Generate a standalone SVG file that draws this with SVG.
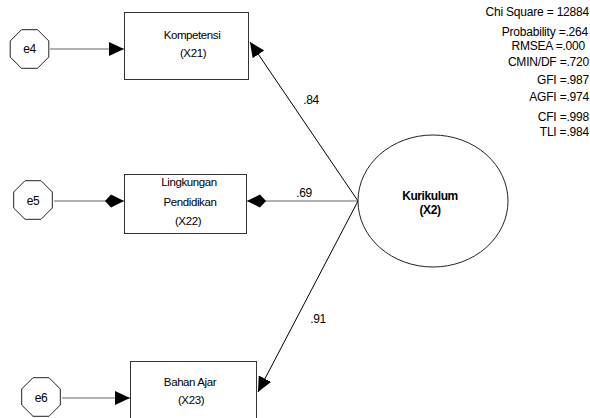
<svg xmlns="http://www.w3.org/2000/svg" xmlns:xlink="http://www.w3.org/1999/xlink" width="590" height="418" viewBox="0 0 590 418">
<defs>
<style>
.t{font-family:"Liberation Sans",Arial,sans-serif;font-size:11.5px;fill:#000;text-anchor:middle;letter-spacing:-0.4px}
.s{font-family:"Liberation Sans",Arial,sans-serif;font-size:12px;fill:#000;text-anchor:end;letter-spacing:-0.2px}
.b{font-family:"Liberation Sans",Arial,sans-serif;font-size:12px;font-weight:bold;fill:#000;text-anchor:middle;letter-spacing:-0.4px}
.box{fill:#fff;stroke:#333;stroke-width:1}
.shape{fill:#fff;stroke:#222;stroke-width:1}
.h{stroke:#666;stroke-width:1.2;fill:none}
.o{stroke:#000;stroke-width:1;fill:none}
</style>
<polygon id="oct" points="8,-19.3 19.3,-8 19.3,8 8,19.3 -8,19.3 -19.3,8 -19.3,-8 -8,-19.3"/>
<marker id="tri" markerUnits="userSpaceOnUse" markerWidth="16" markerHeight="14" refX="15" refY="7" orient="auto">
<path d="M0,0 L15,7 L0,14 Z" fill="#000"/>
</marker>
<marker id="kite" markerUnits="userSpaceOnUse" markerWidth="20" markerHeight="15" refX="19" refY="7.5" orient="auto">
<path d="M0,7.5 L6,1 L19,7.5 L6,14 Z" fill="#000"/>
</marker>
</defs>
<rect width="590" height="418" fill="#fff"/>
<g id="connectors">
<line class="h" x1="50" y1="49" x2="124" y2="49" marker-end="url(#tri)"/>
<line class="h" x1="54" y1="201" x2="124" y2="201" marker-end="url(#kite)"/>
<line class="h" x1="62" y1="398" x2="130" y2="398" marker-end="url(#tri)"/>
<line class="o" x1="358" y1="201" x2="250" y2="42" marker-end="url(#tri)"/>
<line class="h" x1="358" y1="201" x2="247" y2="201" marker-end="url(#kite)"/>
<line class="o" x1="358" y1="201" x2="258" y2="392" marker-end="url(#tri)"/>
<text class="t" x="311" y="104" style="font-size:12px">.84</text>
<text class="t" x="304" y="197" style="font-size:12px">.69</text>
<text class="t" x="318" y="323" style="font-size:12px">.91</text>
</g>
<g id="e4">
<use xlink:href="#oct" class="shape" transform="translate(29.5,49)"/>
<text class="t" x="29.5" y="53" style="font-size:12px">e4</text>
</g>
<g id="e5">
<use xlink:href="#oct" class="shape" transform="translate(33,200)"/>
<text class="t" x="33" y="205" style="font-size:12px">e5</text>
</g>
<g id="e6">
<use xlink:href="#oct" class="shape" transform="translate(41,397)"/>
<text class="t" x="41" y="402" style="font-size:12px">e6</text>
</g>
<g id="kompetensi">
<rect class="box" x="124.5" y="12.5" width="124" height="67"/>
<text class="t" x="192" y="39">Kompetensi</text>
<text class="t" x="193" y="57">(X21)</text>
</g>
<g id="lingkungan">
<rect class="box" x="124.5" y="174.5" width="122" height="59"/>
<text class="t" x="189" y="186">Lingkungan</text>
<text class="t" x="190" y="206">Pendidikan</text>
<text class="t" x="188" y="225">(X22)</text>
</g>
<g id="bahan">
<rect class="box" x="130.5" y="361.5" width="126" height="60"/>
<text class="t" x="190" y="386">Bahan Ajar</text>
<text class="t" x="191" y="404">(X23)</text>
</g>
<g id="kurikulum">
<ellipse class="shape" cx="433" cy="201" rx="75" ry="66"/>
<text class="b" x="430" y="200">Kurikulum</text>
<text class="b" x="430" y="214">(X2)</text>
</g>
<g id="fit">
<text class="s" x="589" y="16">Chi Square = 12884</text>
<text class="s" x="588" y="36">Probability =.264</text>
<text class="s" x="585" y="49.5">RMSEA =.000</text>
<text class="s" x="589" y="66">CMIN/DF =.720</text>
<text class="s" x="589" y="84">GFI =.987</text>
<text class="s" x="589" y="101">AGFI =.974</text>
<text class="s" x="589" y="121">CFI =.998</text>
<text class="s" x="589" y="136">TLI =.984</text>
</g>
</svg>
